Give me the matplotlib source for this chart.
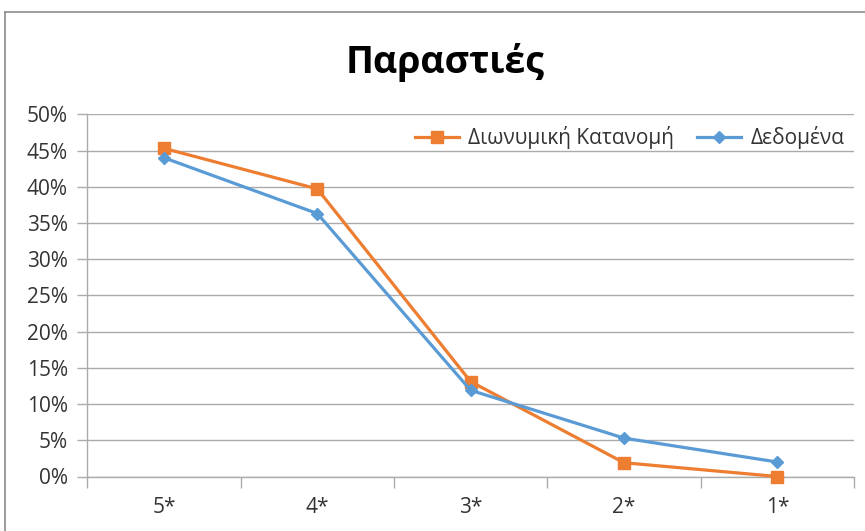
import matplotlib
matplotlib.use("Agg")
import matplotlib.pyplot as plt
from matplotlib.lines import Line2D
from matplotlib.ticker import PercentFormatter, FixedLocator

categories = ["5*", "4*", "3*", "2*", "1*"]
binomial = [0.453, 0.397, 0.131, 0.019, 0.0]
data = [0.440, 0.363, 0.119, 0.053, 0.020]
title = "Παραστιές"
series_names = ["Διωνυμική Κατανομή", "Δεδομένα"]

plt.rcParams['font.family'] = ['Open Sans', 'DejaVu Sans']

fig = plt.figure(figsize=(8.65, 5.31), dpi=100)
ax = fig.add_axes([87.3/865, 1-476.5/531, (854-87.3)/865, (476.5-114.3)/531])

grid_c = "#ABABAB"
orange = "#ED7D31"
blue = "#5B9BD5"
text_c = "#333333"

x = list(range(len(categories)))
ax.plot(x, binomial, color=orange, lw=2.3, marker='s', ms=8, label=series_names[0], zorder=3, clip_on=False)
ax.plot(x, data, color=blue, lw=2.3, marker='D', ms=6.5, label=series_names[1], zorder=3, clip_on=False)

ax.set_xlim(-0.5, len(categories) - 0.5)
ax.set_ylim(0, 0.5)
ax.set_yticks([i * 0.05 for i in range(11)])
ax.yaxis.set_major_formatter(PercentFormatter(1.0, decimals=0))
ax.grid(axis='y', color=grid_c, lw=1)
ax.set_axisbelow(True)

ax.set_xticks(x)
ax.set_xticklabels(categories)
ax.xaxis.set_minor_locator(FixedLocator([i - 0.5 for i in range(len(categories) + 1)]))
ax.tick_params(axis='x', which='major', length=0, pad=15, labelsize=15, labelcolor=text_c)
ax.tick_params(axis='x', which='minor', length=8, color=grid_c, width=1)
ax.tick_params(axis='y', which='major', length=7, color=grid_c, width=1, pad=7, labelsize=15, labelcolor=text_c)

for s in ['top', 'right']:
    ax.spines[s].set_visible(False)
ax.spines['left'].set_color(grid_c)
ax.spines['bottom'].set_color(grid_c)
ax.spines['left'].set_linewidth(1)
ax.spines['bottom'].set_linewidth(1)

leg = ax.legend(loc='upper right', ncol=2, frameon=False, fontsize=15,
                bbox_to_anchor=(1.012, 1.02), handlelength=2.1, columnspacing=1.1,
                handletextpad=0.45, labelcolor=text_c)

fig.text(445/865, 1-73.3/531, title, ha='center', va='baseline', fontsize=27, fontweight='bold', color='black')

# chart border
fig.add_artist(Line2D([5/865, 1.0], [1-12.3/531, 1-12.3/531], color='#8C8C8C', lw=1.2, transform=fig.transFigure))
fig.add_artist(Line2D([5/865, 5/865], [0, 1-12.3/531], color='#8C8C8C', lw=1.2, transform=fig.transFigure))

fig.savefig("out.png", dpi=100)
